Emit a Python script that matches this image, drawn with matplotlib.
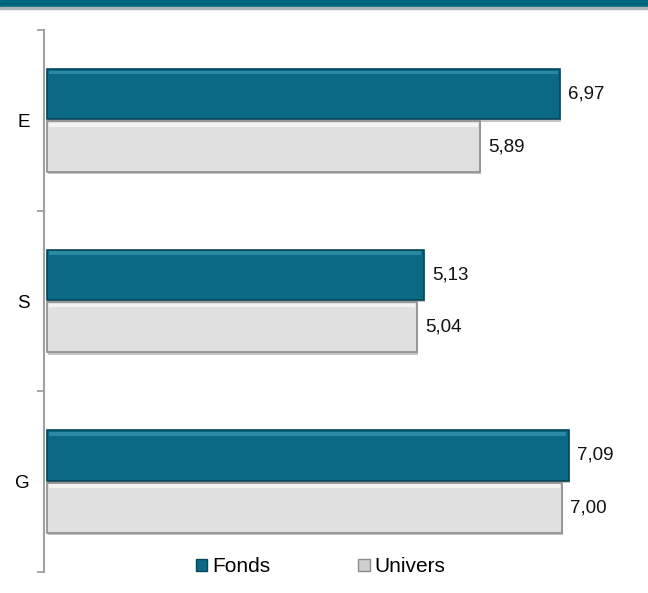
import numpy as np
import matplotlib.pyplot as plt
from matplotlib.patches import Rectangle, Patch

plt.rcParams['font.family'] = ['Liberation Sans', 'DejaVu Sans']

categories = ['E', 'S', 'G']
fonds = [6.97, 5.13, 7.09]
univers = [5.89, 5.04, 7.00]
labels = ['Fonds', 'Univers']

W, H = 648, 593
fig = plt.figure(figsize=(W / 100, H / 100), dpi=100)
ax = fig.add_axes([44 / W, 21 / H, 1 - 44 / W, (572 - 30) / H])

# header band
fig.patches.append(Rectangle((0, 1 - 7 / H), 1, 7 / H, transform=fig.transFigure,
                             color='#006680', zorder=5))
fig.patches.append(Rectangle((0, 1 - 9 / H), 1, 2 / H, transform=fig.transFigure,
                             color='#a9b4b8', zorder=5))

y = np.arange(len(categories))
h = 0.28
off = 0.145
x0 = 0.04  # small gap between spine and bars

styles = [
    (fonds, -off, '#0a6a86', '#06475a', '#2a89a3'),
    (univers, off, '#e0e0e0', '#8c8c8c', '#f4f4f4'),
]
for vals, dy, col, edge, light in styles:
    yy = y + dy
    v = np.array(vals) - x0
    # shadow
    ax.barh(yy + 0.012, v, height=h, left=x0 + 0.02, color='#c4c4c4', zorder=1)
    ax.barh(yy, v, height=h, left=x0, color=col, edgecolor=edge, linewidth=1.2, zorder=2)
    # bevel highlight at top
    ax.barh(yy - h / 2 + 0.02, v - 0.06, left=x0 + 0.03, height=0.02,
            color=light, linewidth=0, zorder=3)
    for yi, val in zip(yy, vals):
        ax.text(val + 0.11, yi, f'{val:.2f}'.replace('.', ','), va='center', ha='left',
                fontsize=13.5, color='#111111')

ax.set_xlim(0, 604 / 74)
ax.set_ylim(2.5, -0.5)
ax.set_yticks(y)
ax.set_yticklabels(categories, fontsize=13.5)
ax.tick_params(axis='y', which='major', length=0, pad=10)
ax.set_yticks([-0.5, 0.5, 1.5, 2.5], minor=True)
ax.tick_params(axis='y', which='minor', length=5, width=1.3, color='#a0a0a0')
ax.set_xticks([])
for s in ['top', 'right', 'bottom']:
    ax.spines[s].set_visible(False)
ax.spines['left'].set_color('#a0a0a0')
ax.spines['left'].set_linewidth(1.5)

handles = [Patch(facecolor='#0a6a86', edgecolor='#06475a'),
           Patch(facecolor='#cfcfcf', edgecolor='#8c8c8c')]
fig.legend(handles, labels, loc='center', bbox_to_anchor=(0.495, 26 / H), ncol=2,
           frameon=False, fontsize=15, handlelength=0.55, handleheight=0.55,
           handletextpad=0.25, columnspacing=4.2)

fig.savefig('out.png', dpi=100)
